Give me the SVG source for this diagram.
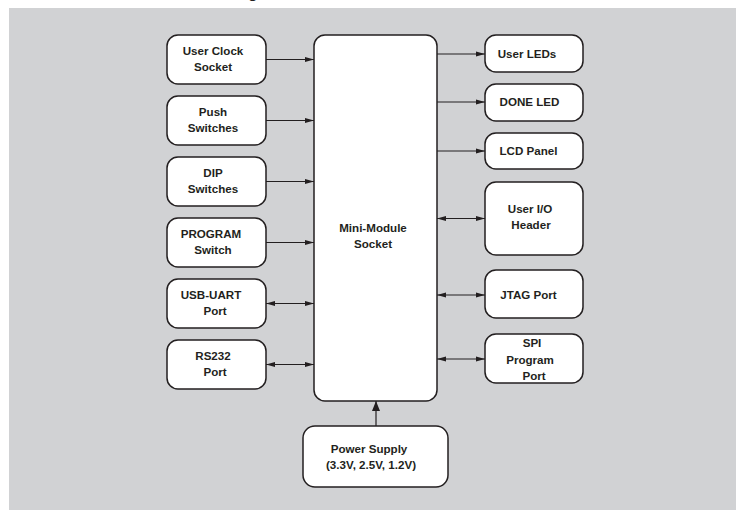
<svg xmlns="http://www.w3.org/2000/svg" width="736" height="510" viewBox="0 0 736 510">
<style>
.box{fill:#fff;stroke:#231f20;stroke-width:1.5}
.t{font-family:"Liberation Sans",Arial,sans-serif;font-weight:bold;font-size:11.6px;fill:#231f20;text-anchor:middle}
.c{fill:none;stroke:#231f20;stroke-width:1.2}
</style>
<defs>
<marker id="ah" markerUnits="userSpaceOnUse" markerWidth="9" markerHeight="6" refX="9" refY="3" orient="auto-start-reverse">
<path d="M0,0.5 L9,3 L0,5.5 z" fill="#231f20"/>
</marker>
<marker id="ahb" markerUnits="userSpaceOnUse" markerWidth="10" markerHeight="9" refX="10" refY="4.5" orient="auto">
<path d="M0,0.5 L10,4.5 L0,8.5 z" fill="#231f20"/>
</marker>
</defs>
<rect x="0" y="0" width="736" height="510" fill="#fff"/>
<rect x="9" y="8" width="727" height="502" fill="#d1d2d4"/>
<text x="253" y="-2" class="t" style="font-size:16px">g</text>

<g id="connectors">
<line class="c" x1="266" y1="59.5" x2="314" y2="59.5" marker-end="url(#ah)"/>
<line class="c" x1="266" y1="120.5" x2="314" y2="120.5" marker-end="url(#ah)"/>
<line class="c" x1="266" y1="181.5" x2="314" y2="181.5" marker-end="url(#ah)"/>
<line class="c" x1="266" y1="242.5" x2="314" y2="242.5" marker-end="url(#ah)"/>
<line class="c" x1="266" y1="303.5" x2="314" y2="303.5" marker-start="url(#ah)" marker-end="url(#ah)"/>
<line class="c" x1="266" y1="364.5" x2="314" y2="364.5" marker-start="url(#ah)" marker-end="url(#ah)"/>
<line class="c" x1="437" y1="54" x2="485" y2="54" marker-end="url(#ah)"/>
<line class="c" x1="437" y1="102" x2="485" y2="102" marker-end="url(#ah)"/>
<line class="c" x1="437" y1="151" x2="485" y2="151" marker-end="url(#ah)"/>
<line class="c" x1="437" y1="218.5" x2="485" y2="218.5" marker-start="url(#ah)" marker-end="url(#ah)"/>
<line class="c" x1="437" y1="295" x2="485" y2="295" marker-start="url(#ah)" marker-end="url(#ah)"/>
<line class="c" x1="437" y1="359" x2="485" y2="359" marker-start="url(#ah)" marker-end="url(#ah)"/>
<line class="c" x1="376" y1="426" x2="376" y2="401" marker-end="url(#ahb)"/>
</g>

<g id="mini-module">
<rect class="box" x="314" y="35" width="123" height="366" rx="11"/>
<text class="t" x="373" y="232">Mini-Module</text>
<text class="t" x="373" y="248">Socket</text>
</g>

<g id="user-clock">
<rect class="box" x="167" y="35" width="99" height="49" rx="11"/>
<text class="t" x="213" y="55">User Clock</text>
<text class="t" x="213" y="71">Socket</text>
</g>
<g id="push-switches">
<rect class="box" x="167" y="96" width="99" height="49" rx="11"/>
<text class="t" x="213" y="116">Push</text>
<text class="t" x="213" y="132">Switches</text>
</g>
<g id="dip-switches">
<rect class="box" x="167" y="157" width="99" height="49" rx="11"/>
<text class="t" x="213" y="177">DIP</text>
<text class="t" x="213" y="193">Switches</text>
</g>
<g id="program-switch">
<rect class="box" x="167" y="218" width="99" height="49" rx="11"/>
<text class="t" x="211" y="238">PROGRAM</text>
<text class="t" x="213" y="254">Switch</text>
</g>
<g id="usb-uart">
<rect class="box" x="167" y="279" width="99" height="49" rx="11"/>
<text class="t" x="211" y="299">USB-UART</text>
<text class="t" x="215" y="315">Port</text>
</g>
<g id="rs232">
<rect class="box" x="167" y="340" width="99" height="49" rx="11"/>
<text class="t" x="213" y="360">RS232</text>
<text class="t" x="215" y="376">Port</text>
</g>

<g id="user-leds">
<rect class="box" x="485" y="35" width="98" height="37" rx="11"/>
<text class="t" x="527" y="58">User LEDs</text>
</g>
<g id="done-led">
<rect class="box" x="485" y="84" width="98" height="37" rx="11"/>
<text class="t" x="529.5" y="106">DONE LED</text>
</g>
<g id="lcd-panel">
<rect class="box" x="485" y="133" width="98" height="36" rx="11"/>
<text class="t" x="528.5" y="155">LCD Panel</text>
</g>
<g id="user-io">
<rect class="box" x="485" y="182" width="98" height="73" rx="11"/>
<text class="t" x="530" y="213">User I/O</text>
<text class="t" x="531" y="229">Header</text>
</g>
<g id="jtag">
<rect class="box" x="485" y="270" width="98" height="48" rx="11"/>
<text class="t" x="528.5" y="299">JTAG Port</text>
</g>
<g id="spi">
<rect class="box" x="485" y="334" width="98" height="49" rx="11"/>
<text class="t" x="532" y="347">SPI</text>
<text class="t" x="530" y="363.5">Program</text>
<text class="t" x="534" y="380">Port</text>
</g>

<g id="power-supply">
<rect class="box" x="303" y="426" width="145" height="61" rx="12"/>
<text class="t" x="369" y="453">Power Supply</text>
<text class="t" x="371" y="468.5">(3.3V, 2.5V, 1.2V)</text>
</g>
</svg>
